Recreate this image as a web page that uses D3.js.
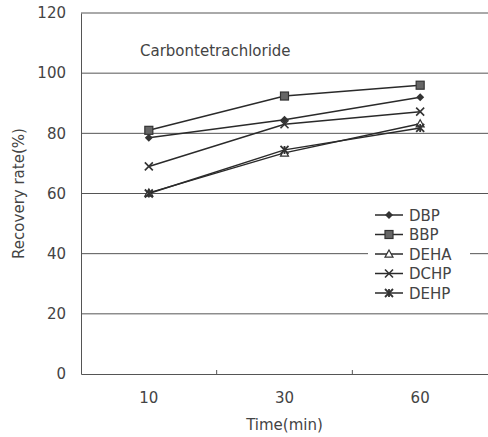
<!DOCTYPE html>
<html>
<head>
<meta charset="utf-8">
<script src="https://cdn.jsdelivr.net/npm/d3@7/dist/d3.min.js"></script>
<style>
  body { margin: 0; background: #fff; }
  text { font-family: "DejaVu Sans", sans-serif; fill: #444; }
</style>
</head>
<body>
<svg id="chart"></svg>
<script>
var times = ['10', '30', '60'];
var seriesNames = ['DBP', 'BBP', 'DEHA', 'DCHP', 'DEHP'];
var dbp = [78.5, 84.5, 92];
var bbp = [81, 92.4, 96];
var deha = [60.2, 73.5, 83.2];
var dchp = [69, 83, 87.2];
var dehp = [60, 74.5, 81.8];
var yTicks = [0, 20, 40, 60, 80, 100, 120];
var title = 'Carbontetrachloride';

var seriesValues = [dbp, bbp, deha, dchp, dehp];
var markers = ['diamond', 'square', 'triangle', 'cross', 'asterisk'];

var width = 488, height = 437;
var margin = { left: 81, right: 0, top: 13, bottom: 63 };

var svg = d3.select('#chart').attr('width', width).attr('height', height);

var x = d3.scaleBand().domain(times).range([margin.left, 488]);
var y = d3.scaleLinear().domain([0, 120]).range([height - margin.bottom, margin.top]);

// gridlines
svg.append('g').selectAll('line')
  .data(yTicks.filter(function(d) { return d > 0; }))
  .enter().append('line')
  .attr('x1', margin.left).attr('x2', width)
  .attr('y1', function(d) { return y(d); }).attr('y2', function(d) { return y(d); })
  .attr('stroke', '#555').attr('stroke-width', 1);

// axes
var yAxis = svg.append('g')
  .attr('transform', 'translate(' + margin.left + ',0)')
  .call(d3.axisLeft(y).tickValues(yTicks).tickSize(0).tickPadding(15));
yAxis.select('.domain').attr('stroke', '#555');
yAxis.selectAll('text').style('font-size', '15px').style('font-family', '"DejaVu Sans", sans-serif').attr('fill', '#444');

var xAxis = svg.append('g')
  .attr('transform', 'translate(0,' + y(0) + ')')
  .call(d3.axisBottom(x).tickSize(0).tickPadding(18));
xAxis.select('.domain').attr('stroke', '#555');
xAxis.selectAll('text').style('font-size', '15px').style('font-family', '"DejaVu Sans", sans-serif').attr('fill', '#444');

// small ticks at category boundaries
svg.append('g').selectAll('line')
  .data(times.slice(1))
  .enter().append('line')
  .attr('x1', function(d) { return x(d); }).attr('x2', function(d) { return x(d); })
  .attr('y1', y(0)).attr('y2', y(0) - 4)
  .attr('stroke', '#555');

// labels
svg.append('text')
  .attr('x', (margin.left + width) / 2).attr('y', 430)
  .attr('text-anchor', 'middle').style('font-size', '15px')
  .text('Time(min)');

svg.append('text')
  .attr('transform', 'translate(24,' + ((y(0) + y(120)) / 2) + ') rotate(-90)')
  .attr('text-anchor', 'middle').style('font-size', '15px')
  .text('Recovery rate(%)');

svg.append('text')
  .attr('x', 140).attr('y', 56)
  .style('font-size', '15px')
  .text(title);

function drawMarker(g, type, cx, cy) {
  var s = 4;
  if (type === 'diamond') {
    g.append('path')
      .attr('d', 'M' + cx + ',' + (cy - s) + 'L' + (cx + s) + ',' + cy + 'L' + cx + ',' + (cy + s) + 'L' + (cx - s) + ',' + cy + 'Z')
      .attr('fill', '#333');
  } else if (type === 'square') {
    g.append('rect')
      .attr('x', cx - s).attr('y', cy - s).attr('width', 2 * s).attr('height', 2 * s)
      .attr('fill', '#666').attr('stroke', '#333').attr('stroke-width', 1.2);
  } else if (type === 'triangle') {
    g.append('path')
      .attr('d', 'M' + cx + ',' + (cy - s) + 'L' + (cx + s) + ',' + (cy + s * 0.8) + 'L' + (cx - s) + ',' + (cy + s * 0.8) + 'Z')
      .attr('fill', '#fff').attr('stroke', '#333').attr('stroke-width', 1.2);
  } else if (type === 'cross') {
    g.append('path')
      .attr('d', 'M' + (cx - s) + ',' + (cy - s) + 'L' + (cx + s) + ',' + (cy + s) + 'M' + (cx + s) + ',' + (cy - s) + 'L' + (cx - s) + ',' + (cy + s))
      .attr('stroke', '#333').attr('stroke-width', 1.6);
  } else {
    g.append('path')
      .attr('d', 'M' + (cx - s) + ',' + (cy - s) + 'L' + (cx + s) + ',' + (cy + s) + 'M' + (cx + s) + ',' + (cy - s) + 'L' + (cx - s) + ',' + (cy + s) + 'M' + cx + ',' + (cy - s) + 'L' + cx + ',' + (cy + s))
      .attr('stroke', '#333').attr('stroke-width', 1.8);
  }
}

var line = d3.line()
  .x(function(d, i) { return x(times[i]) + x.bandwidth() / 2; })
  .y(function(d) { return y(d); });

seriesValues.forEach(function(vals, si) {
  var g = svg.append('g');
  g.append('path').datum(vals).attr('d', line)
    .attr('fill', 'none').attr('stroke', '#2a2a2a').attr('stroke-width', 1.5);
  vals.forEach(function(v, i) {
    drawMarker(g, markers[si], x(times[i]) + x.bandwidth() / 2, y(v));
  });
});

// legend
var legend = svg.append('g');
legend.append('rect')
  .attr('x', 368).attr('y', 205).attr('width', 102).attr('height', 96)
  .attr('fill', '#fff');
seriesNames.forEach(function(name, i) {
  var ly = 215 + i * 19.5;
  var lg = legend.append('g');
  lg.append('line').attr('x1', 375).attr('x2', 403).attr('y1', ly).attr('y2', ly)
    .attr('stroke', '#2a2a2a').attr('stroke-width', 1.5);
  drawMarker(lg, markers[i], 389, ly);
  lg.append('text').attr('x', 409).attr('y', ly + 5.5).style('font-size', '15px').text(name);
});
</script>
</body>
</html>
